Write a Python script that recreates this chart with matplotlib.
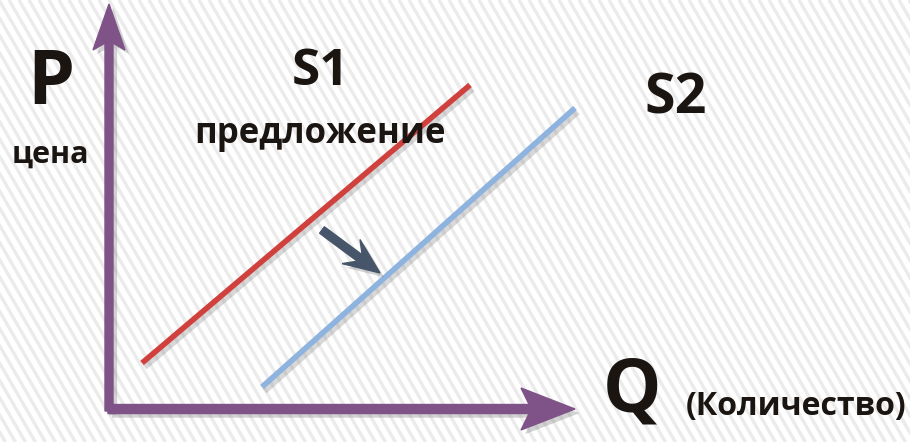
import matplotlib.pyplot as plt
import matplotlib.patheffects as pe
import numpy as np
from matplotlib.patches import FancyArrow

plt.rcParams["font.family"] = ["Open Sans", "DejaVu Sans"]

# data space: 1 unit = 1 pixel, origin at the axes corner
s1_q = [33, 361]
s1_p = [46, 324]
s2_q = [153, 466]
s2_p = [22, 301]
shift_q = [213, 271]   # arrow S1 -> S2
shift_p = [179, 136]
q_axis_end = 466
p_axis_end = 405

TEXT = "#1b1512"
PURPLE = "#7f5288"
RED = "#d0413e"
BLUE = "#8db3de"
SLATE = "#465569"

fig = plt.figure(figsize=(9.10, 4.42), dpi=100)
ax = fig.add_axes([0, 0, 1, 1])
ax.set_xlim(-109, 801)
ax.set_ylim(-33, 409)
ax.axis("off")

# diagonal stripe background
for x0 in np.arange(-400, 1000, 10):
    ax.plot([x0, x0 + 0.58 * 442], [409, -33], color="#ebebeb", lw=2.4,
            solid_capstyle="butt", zorder=0)

shadow_line = [pe.SimpleLineShadow(offset=(2, -3), shadow_color="gray", alpha=0.3),
               pe.Normal()]
shadow_patch = [pe.SimplePatchShadow(offset=(3, -3), shadow_rgbFace="gray", alpha=0.35),
                pe.Normal()]

ax.plot(s1_q, s1_p, color=RED, lw=4.0, solid_capstyle="butt", path_effects=shadow_line, zorder=3)
ax.plot(s2_q, s2_p, color=BLUE, lw=4.0, solid_capstyle="butt", path_effects=shadow_line, zorder=3)

# axes arrows
p_arrow = FancyArrow(0, -2, 0, p_axis_end + 2, width=8, head_width=32, head_length=46,
                     length_includes_head=True, overhang=0.15, color=PURPLE,
                     path_effects=shadow_patch, zorder=4)
q_arrow = FancyArrow(-1, 0, q_axis_end + 1, 0, width=9, head_width=42, head_length=54,
                     length_includes_head=True, overhang=0.15, color=PURPLE,
                     path_effects=shadow_patch, zorder=4)
ax.add_patch(p_arrow)
ax.add_patch(q_arrow)

# shift arrow
ax.add_patch(FancyArrow(shift_q[0], shift_p[0], shift_q[1] - shift_q[0], shift_p[1] - shift_p[0],
                        width=8, head_width=30, head_length=36, length_includes_head=True,
                        overhang=0.3, color=SLATE, path_effects=shadow_patch, zorder=5))

# labels
ax.text(-58, 409 - 104, "P", fontsize=54, fontweight="bold", color=TEXT, ha="center", va="baseline")
ax.text(-59, 409 - 163, "цена", fontsize=22, fontweight="bold", color=TEXT, ha="center", va="baseline")
ax.text(211, 409 - 85, "S1", fontsize=37, fontweight="bold", color=TEXT, ha="center", va="baseline")
ax.text(211, 409 - 143, "предложение", fontsize=25, fontweight="bold", color=TEXT, ha="center", va="baseline")
ax.text(567, 409 - 114, "S2", fontsize=40, fontweight="bold", color=TEXT, ha="center", va="baseline")
ax.text(523, 409 - 412, "Q", fontsize=53, fontweight="bold", color=TEXT, ha="center", va="baseline")
ax.text(687, 409 - 415, "(Количество)", fontsize=23, fontweight="bold", color=TEXT, ha="center", va="baseline")

fig.savefig("out.png", dpi=100)
